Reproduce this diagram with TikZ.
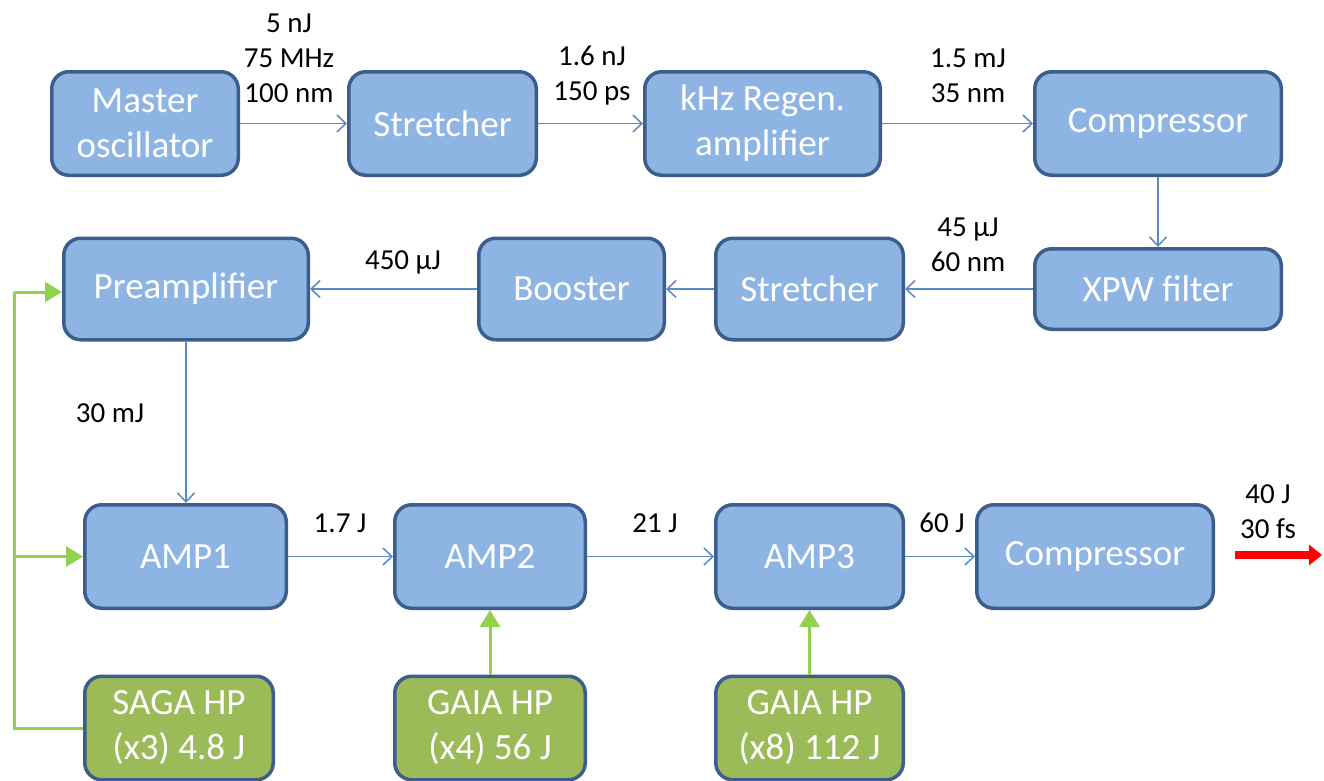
\documentclass[tikz,border=0pt]{standalone}
\usepackage{fontspec}
\setmainfont{Carlito}
\usetikzlibrary{arrows.meta}
\definecolor{boxfill}{HTML}{8EB4E3}
\definecolor{boxline}{HTML}{3B5E8C}
\definecolor{greenfill}{HTML}{9BBB59}
\definecolor{flow}{HTML}{5A8AC6}
\definecolor{pump}{HTML}{92D050}
\definecolor{outred}{HTML}{FF0000}
\begin{document}
\begin{tikzpicture}[x=1pt,y=1pt]
\tikzset{
  blk/.style={draw=boxline, line width=3.5pt, fill=boxfill, rounded corners=17pt,
    text=white, font=\fontsize{37}{45}\selectfont, align=center, inner sep=0pt},
  pmp/.style={blk, fill=greenfill},
  lbl/.style={font=\fontsize{29}{35}\selectfont, align=center, text=black, inner sep=0pt},
  flowarr/.style={draw=flow, line width=1.5pt, -{Straight Barb[length=9pt,width=17pt,line width=1.5pt]}},
  pumpline/.style={draw=pump, line width=3pt, line join=miter},
  pumparr/.style={pumpline, -{Triangle[length=17pt,width=20pt]}},
}
\useasboundingbox (0,0) rectangle (1324,-780);
\clip (0,0) rectangle (1324,-780);
\fill[white] (0,0) rectangle (1324,-780);

% row 1
\node[blk, minimum width=186.5pt, minimum height=103.5pt] (mo) at (145,-123.5) {Master\\oscillator};
\node[blk, minimum width=187.5pt, minimum height=103.5pt] (st1) at (442.5,-123.5) {Stretcher};
\node[blk, minimum width=235.5pt, minimum height=103.5pt] (reg) at (762.5,-123.5) {kHz Regen.\\amplifier};
\node[blk, minimum width=246.5pt, minimum height=103.5pt] (comp1) at (1158,-123.5) {Compressor};
% row 2
\node[blk, minimum width=246.5pt, minimum height=80.5pt] (xpw) at (1158,-289) {XPW filter};
\node[blk, minimum width=187.5pt, minimum height=101.5pt] (st2) at (809.5,-289) {Stretcher};
\node[blk, minimum width=185.5pt, minimum height=101.5pt] (boo) at (571.5,-289) {Booster};
\node[blk, minimum width=244.5pt, minimum height=101.5pt] (pre) at (186,-289) {Preamplifier};
% row 3
\node[blk, minimum width=201.5pt, minimum height=103.5pt] (amp1) at (185.5,-556.5) {AMP1};
\node[blk, minimum width=190.5pt, minimum height=103.5pt] (amp2) at (490,-556.5) {AMP2};
\node[blk, minimum width=187.5pt, minimum height=103.5pt] (amp3) at (809.5,-556.5) {AMP3};
\node[blk, minimum width=236.5pt, minimum height=103.5pt] (comp2) at (1095,-556.5) {Compressor};
% row 4
\node[pmp, minimum width=188.5pt, minimum height=103.5pt] (saga) at (179,-728) {SAGA HP\\(x3) 4.8 J};
\node[pmp, minimum width=190.5pt, minimum height=103.5pt] (gaia1) at (490,-728) {GAIA HP\\(x4) 56 J};
\node[pmp, minimum width=187.5pt, minimum height=103.5pt] (gaia2) at (809.5,-728) {GAIA HP\\(x8) 112 J};

% beam path
\draw[flowarr] (mo.east) -- (st1.west);
\draw[flowarr] (st1.east) -- (reg.west);
\draw[flowarr] (reg.east) -- (comp1.west);
\draw[flowarr] (comp1.south) -- (xpw.north);
\draw[flowarr] (xpw.west) -- (st2.east);
\draw[flowarr] (st2.west) -- (boo.east);
\draw[flowarr] (boo.west) -- (pre.east);
\draw[flowarr] (pre.south) -- (amp1.north -| pre.south);
\draw[flowarr] (amp1.east) -- (amp2.west);
\draw[flowarr] (amp2.east) -- (amp3.west);
\draw[flowarr] (amp3.east) -- (comp2.west);

% pump lines
\coordinate (gb) at (14,-728);
\coordinate (gt) at (14,-292);
\coordinate (gm) at (14,-556.5);
\draw[pumpline] (saga.west) -- (gb) -- (gt);
\draw[pumparr] (gt) -- (gt -| pre.west);
\draw[pumparr] (gm) -- (amp1.west);
\draw[pumparr] (gaia1.north) -- (amp2.south);
\draw[pumparr] (gaia2.north) -- (amp3.south);

% output
\coordinate (r0) at (1235,-555);
\coordinate (r1) at (1322,-555);
\draw[draw=outred, line width=8pt, -{Triangle[length=13pt,width=20pt]}] (r0) -- (r1);

% labels
\node[lbl] (l1) at (289,-58) {5 nJ\\75 MHz\\100 nm};
\node[lbl] (l2) at (592,-75.5) {1.6 nJ\\150 ps};
\node[lbl] (l3) at (968,-75.5) {1.5 mJ\\35 nm};
\node[lbl] (l4) at (968,-245) {45 μJ\\60 nm};
\node[lbl] (l5) at (403,-262) {450 μJ};
\node[lbl] (l6) at (110,-413) {30 mJ};
\node[lbl] (l7) at (340,-523) {1.7 J};
\node[lbl] (l8) at (655,-523) {21 J};
\node[lbl] (l9) at (942,-523) {60 J};
\node[lbl] (l10) at (1268,-512) {40 J\\30 fs};
\end{tikzpicture}
\end{document}
